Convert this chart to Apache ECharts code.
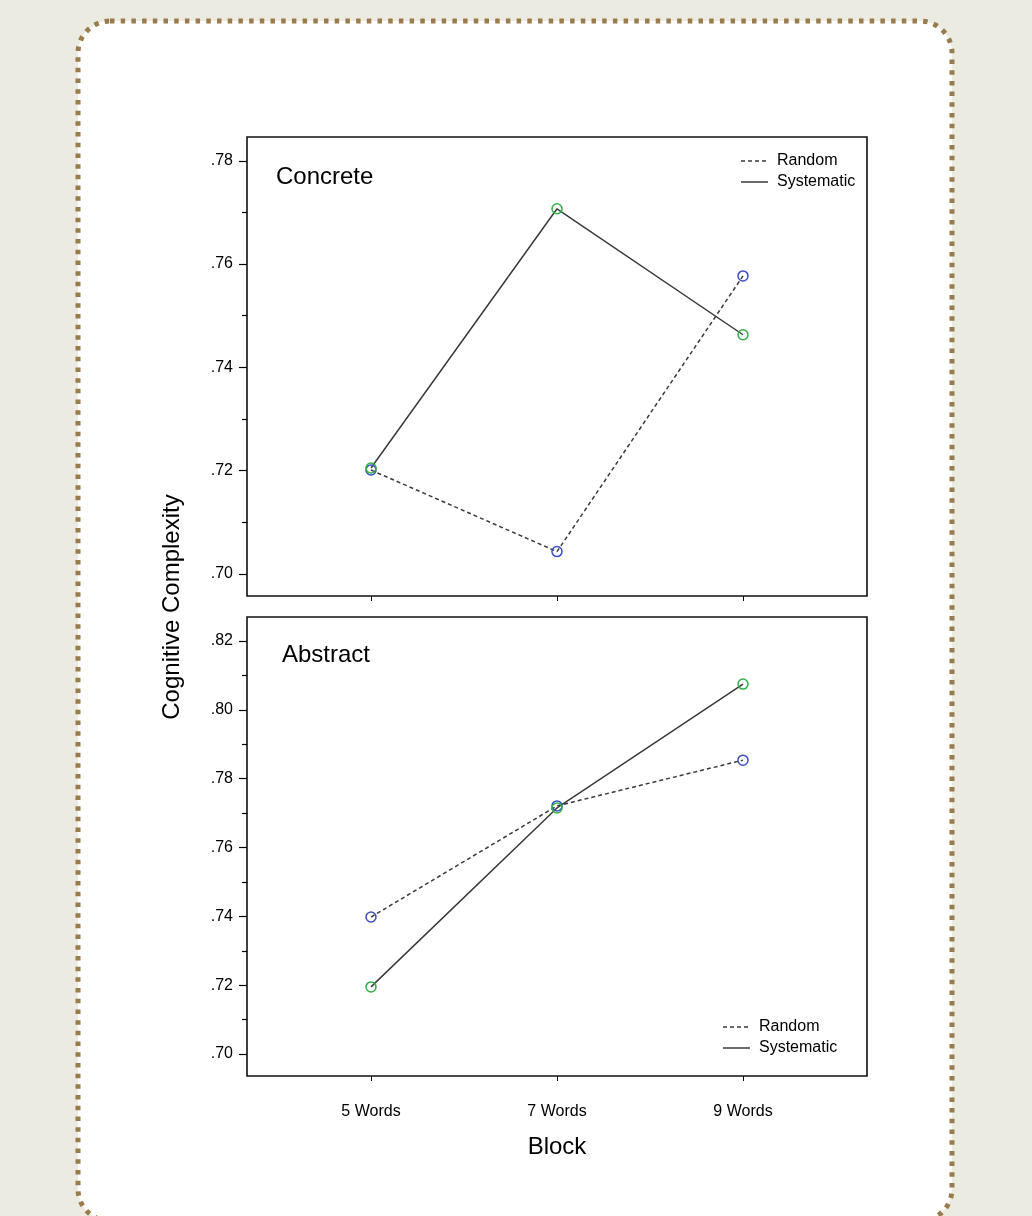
<!DOCTYPE html>
<html><head><meta charset="utf-8">
<script src="https://cdn.jsdelivr.net/npm/echarts@6/dist/echarts.min.js"></script>
<style>html,body{margin:0;padding:0;background:#ecebe1;}#c{width:1032px;height:1216px;}</style>
</head><body><div id="c"></div>
<script>
const categories = ['5 Words', '7 Words', '9 Words'];
const concreteRandom = [0.7201, 0.7043, 0.7577];
const concreteSystematic = [0.7205, 0.7707, 0.7463];
const abstractRandom = [0.7398, 0.7721, 0.7854];
const abstractSystematic = [0.7195, 0.7715, 0.8075];
const topMajorTicks = [0.70, 0.72, 0.74, 0.76, 0.78];
const topMinorTicks = [0.71, 0.73, 0.75, 0.77];
const bottomMajorTicks = [0.70, 0.72, 0.74, 0.76, 0.78, 0.80, 0.82];
const bottomMinorTicks = [0.71, 0.73, 0.75, 0.77, 0.79, 0.81];

const FONT = '"Liberation Sans", Arial, Helvetica, sans-serif';
const LINE = '#3a3a3a';
const BLUE = '#3a4fc4';
const GREEN = '#33b045';
const catIdx = categories.map((c, i) => i);
const pts = vals => vals.map((v, i) => [i, v]);
const fmt = v => '.' + Math.round(v * 100).toString().padStart(2, '0');

function xAxis(gi, labels) {
  return {
    type: 'value', gridIndex: gi, min: -2 / 3, max: 8 / 3, position: 'bottom',
    axisLine: { show: false, onZero: false },
    splitLine: { show: false },
    axisTick: { show: true, length: 5, inside: false, customValues: catIdx, lineStyle: { color: '#000', width: 1 } },
    axisLabel: { show: labels, customValues: catIdx, margin: 28, color: '#000', fontSize: 16, fontFamily: FONT,
      formatter: v => categories[Math.round(v)] },
    name: labels ? 'Block' : '', nameLocation: 'middle', nameGap: 59,
    nameTextStyle: { fontSize: 24, fontFamily: FONT, color: '#000' }
  };
}
function yAxes(gi, min, max, major, minor) {
  return [{
    type: 'value', gridIndex: gi, min: min, max: max, position: 'left',
    axisLine: { show: false, onZero: false }, splitLine: { show: false },
    axisTick: { show: true, length: 8, customValues: major, lineStyle: { color: '#000', width: 1.2 } },
    axisLabel: { show: true, customValues: major, margin: 14, color: '#000', fontSize: 16, fontFamily: FONT, formatter: fmt }
  }, {
    type: 'value', gridIndex: gi, min: min, max: max, position: 'left',
    axisLine: { show: false, onZero: false }, splitLine: { show: false },
    axisTick: { show: true, length: 5, customValues: minor, lineStyle: { color: '#000', width: 1.2 } },
    axisLabel: { show: false }
  }];
}
function series(name, data, xi, yi, dashed, color) {
  return {
    name: name, type: 'line', xAxisIndex: xi, yAxisIndex: yi, data: pts(data),
    symbol: 'circle', symbolSize: 10, showSymbol: true, z: 3,
    lineStyle: { color: LINE, width: 1.5, type: dashed ? [4, 3] : 'solid' },
    itemStyle: { color: 'rgba(255,255,255,0)', borderColor: color, borderWidth: 1.5 },
    emphasis: { disabled: true }, animation: false
  };
}
function legendGraphics(x, y) {
  const t = (txt, yy) => ({ type: 'text', x: x + 36, y: yy,
    style: { text: txt, fontSize: 16, fontFamily: FONT, fill: '#000', verticalAlign: 'middle' } });
  return [
    { type: 'line', shape: { x1: x, y1: y, x2: x + 27, y2: y }, style: { stroke: LINE, lineWidth: 1.5, lineDash: [4, 3] } },
    { type: 'line', shape: { x1: x, y1: y + 21, x2: x + 27, y2: y + 21 }, style: { stroke: LINE, lineWidth: 1.5 } },
    t('Random', y), t('Systematic', y + 21)
  ];
}

const option = {
  animation: false,
  backgroundColor: '#ecebe1',
  grid: [
    { left: 247, top: 137, width: 620, height: 459, show: true, borderColor: '#111', borderWidth: 1.6, backgroundColor: 'transparent' },
    { left: 247, top: 617, width: 620, height: 459, show: true, borderColor: '#111', borderWidth: 1.6, backgroundColor: 'transparent' }
  ],
  xAxis: [xAxis(0, false), xAxis(1, true)],
  yAxis: [].concat(
    yAxes(0, 0.6957, 0.7846, topMajorTicks, topMinorTicks),
    yAxes(1, 0.6936, 0.8270, bottomMajorTicks, bottomMinorTicks)
  ),
  series: [
    series('Random', concreteRandom, 0, 0, true, BLUE),
    series('Systematic', concreteSystematic, 0, 0, false, GREEN),
    series('Random', abstractRandom, 1, 2, true, BLUE),
    series('Systematic', abstractSystematic, 1, 2, false, GREEN)
  ],
  graphic: [
    { type: 'rect', z: -10, silent: true,
      shape: { x: 78, y: 21, width: 874, height: 1200, r: 32 },
      style: { fill: '#ffffff', stroke: '#9a7b4b', lineWidth: 5, lineDash: [4.5, 6.2] } },
    { type: 'text', x: 276, y: 177, style: { text: 'Concrete', fontSize: 24, fontFamily: FONT, fill: '#000', verticalAlign: 'middle' } },
    { type: 'text', x: 282, y: 655, style: { text: 'Abstract', fontSize: 24, fontFamily: FONT, fill: '#000', verticalAlign: 'middle' } },
    { type: 'text', x: 172, y: 607, rotation: Math.PI / 2,
      style: { text: 'Cognitive Complexity', fontSize: 24, fontFamily: FONT, fill: '#000', align: 'center', verticalAlign: 'middle' } }
  ].concat(legendGraphics(741, 161), legendGraphics(723, 1027))
};
const chart = echarts.init(document.getElementById('c'), null, { renderer: 'canvas' });
chart.setOption(option);
</script>
</body></html>
